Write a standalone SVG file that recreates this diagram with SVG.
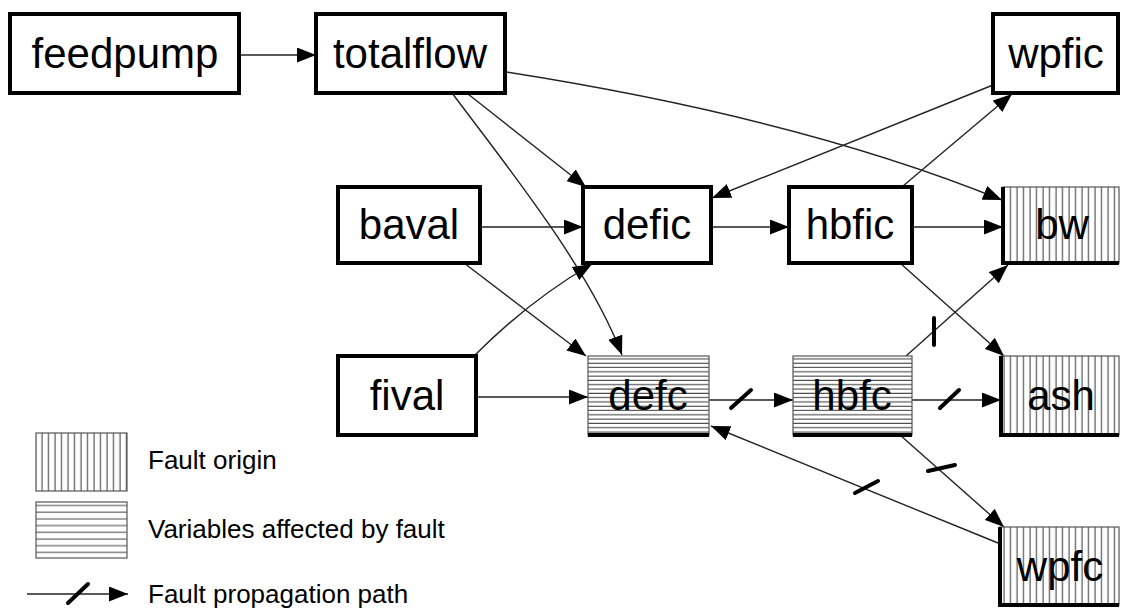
<svg xmlns="http://www.w3.org/2000/svg" width="1121" height="608" viewBox="0 0 1121 608">
  <style>
    .box { fill: #fff; stroke: #000; stroke-width: 4; }
    .hbox { stroke: #555; stroke-width: 1.2; }
    .shadow { stroke: #000; stroke-width: 4; fill: none; }
    .lbl { font-family: "Liberation Sans", Arial, sans-serif; font-size: 42px; text-anchor: middle; fill: #000; }
    .leg { font-family: "Liberation Sans", Arial, sans-serif; font-size: 26px; fill: #000; }
    .edge { fill: none; stroke: #222; stroke-width: 1.4; marker-end: url(#ah); }
    .tick { stroke: #000; stroke-width: 4; stroke-linecap: round; }
  </style>
  <defs>
    <marker id="ah" markerUnits="userSpaceOnUse" markerWidth="19" markerHeight="15" refX="19" refY="7.5" orient="auto">
      <path d="M0,0 L19,7.5 L0,15 z" fill="#000"/>
    </marker>
    <!-- vertical hatching: fault origin -->
    <pattern id="vh" patternUnits="userSpaceOnUse" width="6.5" height="10">
      <rect width="6.5" height="10" fill="#fff"/>
      <line x1="3" y1="0" x2="3" y2="10" stroke="#333" stroke-width="1"/>
    </pattern>
    <!-- horizontal hatching: affected variables -->
    <pattern id="hh" patternUnits="userSpaceOnUse" width="10" height="4.3">
      <rect width="10" height="4.3" fill="#fff"/>
      <line x1="0" y1="2" x2="10" y2="2" stroke="#333" stroke-width="1"/>
    </pattern>
    <pattern id="hhl" patternUnits="userSpaceOnUse" width="10" height="6.7">
      <rect width="10" height="6.7" fill="#fff"/>
      <line x1="0" y1="3" x2="10" y2="3" stroke="#444" stroke-width="1"/>
    </pattern>
  </defs>

  <!-- connectors -->
  <g id="connectors">
    <line class="edge" x1="240" y1="55" x2="316" y2="55"/>
    <line class="edge" x1="468" y1="94" x2="586" y2="187"/>
    <path class="edge" d="M452,93 C510,170 590,270 622,355"/>
    <path class="edge" d="M506,72 Q800,118 1002,200"/>
    <line class="edge" x1="993" y1="85" x2="712" y2="198"/>
    <line class="edge" x1="903" y1="186" x2="1012" y2="94"/>
    <line class="edge" x1="480" y1="227" x2="583" y2="227"/>
    <line class="edge" x1="711" y1="227" x2="789" y2="227"/>
    <line class="edge" x1="912" y1="227" x2="1003" y2="227"/>
    <line class="edge" x1="464" y1="263" x2="586" y2="356"/>
    <path class="edge" d="M475,355 Q530,300 592,264"/>
    <line class="edge" x1="476" y1="397" x2="588" y2="397"/>
    <line class="edge" x1="900" y1="263" x2="1004" y2="356"/>
    <line class="edge" x1="906" y1="356" x2="1008" y2="265"/>
    <line class="edge" x1="709" y1="400" x2="793" y2="400"/>
    <line class="edge" x1="912" y1="400" x2="1001" y2="400"/>
    <line class="edge" x1="900" y1="435" x2="1004" y2="527"/>
    <line class="edge" x1="998" y1="543" x2="711" y2="426"/>
    <!-- propagation ticks -->
    <line class="tick" x1="731" y1="408" x2="751" y2="390"/>
    <line class="tick" x1="940" y1="408" x2="959" y2="390"/>
    <line class="tick" x1="934" y1="318" x2="934" y2="345"/>
    <line class="tick" x1="928" y1="471" x2="955" y2="465"/>
    <line class="tick" x1="855" y1="493" x2="878" y2="481"/>
  </g>

  <!-- plain nodes -->
  <g id="feedpump">
    <rect class="box" x="10" y="14" width="229" height="79"/>
    <text class="lbl" x="125" y="68">feedpump</text>
  </g>
  <g id="totalflow">
    <rect class="box" x="316" y="14" width="189" height="79"/>
    <text class="lbl" x="410" y="68">totalflow</text>
  </g>
  <g id="wpfic">
    <rect class="box" x="993" y="14" width="125" height="79"/>
    <text class="lbl" x="1056" y="68">wpfic</text>
  </g>
  <g id="baval">
    <rect class="box" x="338" y="187" width="142" height="76"/>
    <text class="lbl" x="409" y="239">baval</text>
  </g>
  <g id="defic">
    <rect class="box" x="583" y="187" width="128" height="76"/>
    <text class="lbl" x="647" y="239">defic</text>
  </g>
  <g id="hbfic">
    <rect class="box" x="789" y="187" width="123" height="76"/>
    <text class="lbl" x="850" y="239">hbfic</text>
  </g>
  <g id="fival">
    <rect class="box" x="338" y="356" width="138" height="79"/>
    <text class="lbl" x="407" y="410">fival</text>
  </g>

  <!-- fault origin nodes -->
  <g id="bw">
    <rect class="hbox" x="1003" y="187" width="116" height="76" fill="url(#vh)"/>
    <polyline class="shadow" points="1003,187 1003,263 1119,263"/>
    <text class="lbl" x="1062" y="239">bw</text>
  </g>
  <g id="ash">
    <rect class="hbox" x="1001" y="356" width="118" height="79" fill="url(#vh)"/>
    <polyline class="shadow" points="1001,356 1001,435 1119,435"/>
    <text class="lbl" x="1061" y="410">ash</text>
  </g>
  <g id="wpfc">
    <rect class="hbox" x="1000" y="527" width="119" height="78" fill="url(#vh)"/>
    <polyline class="shadow" points="1000,527 1000,605 1119,605"/>
    <text class="lbl" x="1060" y="581">wpfc</text>
  </g>

  <!-- affected nodes -->
  <g id="defc">
    <rect class="hbox" x="588" y="356" width="121" height="79" fill="url(#hh)"/>
    <line class="shadow" x1="588" y1="435" x2="709" y2="435"/>
    <text class="lbl" x="648" y="410">defc</text>
  </g>
  <g id="hbfc">
    <rect class="hbox" x="793" y="356" width="119" height="79" fill="url(#hh)"/>
    <line class="shadow" x1="793" y1="435" x2="912" y2="435"/>
    <text class="lbl" x="852" y="410">hbfc</text>
  </g>

  <!-- legend -->
  <g id="legend">
    <rect class="hbox" x="36" y="433" width="91" height="58" fill="url(#vh)"/>
    <text class="leg" x="148" y="469">Fault origin</text>
    <rect class="hbox" x="36" y="502" width="91" height="56" fill="url(#hhl)"/>
    <text class="leg" x="148" y="538">Variables affected by fault</text>
    <line class="edge" x1="27" y1="594" x2="128" y2="594"/>
    <line class="tick" x1="68" y1="603" x2="88" y2="584"/>
    <text class="leg" x="148" y="603">Fault propagation path</text>
  </g>
</svg>
